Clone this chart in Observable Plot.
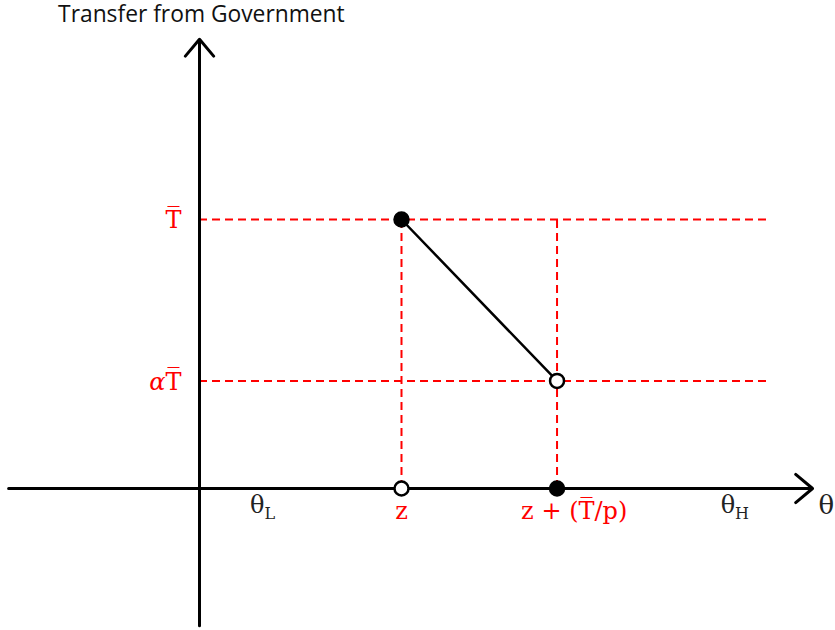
<!DOCTYPE html>
<html><head><meta charset="utf-8">
<script src="https://cdn.jsdelivr.net/npm/d3@7"></script>
<script src="https://cdn.jsdelivr.net/npm/@observablehq/plot@0.6"></script>
<style>body{margin:0;background:#fff}</style>
</head><body><div id="chart"></div>
<script>
// ---- data (schematic units: x origin at theta=0, y: T-bar = 1) ----
const title = "Transfer from Government";
const titlePos = {x: -1.40, y: 1.762};
const xAxisLabel = "θ";
const levelNames = ["T\u0305", "αT\u0305"];
const levelValues = [1, 0.40];
const thresholdNames = ["z", "z + (T\u0305/p)"];
const thresholdValues = [2.0, 3.54];
const thresholdLabelX = [2.0, 3.71];
const regionNames = ["θ_L", "θ_H"];
const regionValues = [0.5, 5.16];
const dashEnd = 5.65;
const xAxisExtent = [-1.89, 6.07];
const yAxisExtent = [-0.51, 1.67];
// segment endpoints: (z, T̄) closed -> (z+T̄/p, αT̄) open
const segX = [thresholdValues[0], thresholdValues[1]];
const segY = [levelValues[0], levelValues[1]];
const filledDots = [{x: thresholdValues[0], y: levelValues[0]}, {x: thresholdValues[1], y: 0}];
const openDots = [{x: thresholdValues[1], y: levelValues[1]}, {x: thresholdValues[0], y: 0}];

const red = "#ff0000";
const serif = "DejaVu Serif";

const hLines = levelValues.map(v => ({x1: 0, x2: dashEnd, y: v}));
const vLines = thresholdValues.map(v => ({x: v, y1: 0, y2: levelValues[0]}));
const segment = segX.map((x, i) => ({x, y: segY[i]}));
const levelLabels = levelNames.map((t, i) => ({t, y: levelValues[i]}));
const threshLabels = thresholdNames.map((t, i) => ({t, x: thresholdLabelX[i]}));
const regionLabels = regionNames.map((t, i) => ({t, x: regionValues[i]}));

const plot = Plot.plot({
  width: 835, height: 630, margin: 0,
  x: {domain: [-199/101, 636/101], axis: null},
  y: {domain: [-142/269, 488/269], axis: null},
  style: {background: "white", overflow: "visible"},
  marks: [
    Plot.ruleY(hLines, {x1: "x1", x2: "x2", y: "y", stroke: red, strokeWidth: 2, strokeDasharray: "8,5"}),
    Plot.ruleX(vLines, {x: "x", y1: "y1", y2: "y2", stroke: red, strokeWidth: 2, strokeDasharray: "8,5"}),
    Plot.arrow([{x1: xAxisExtent[0], x2: xAxisExtent[1], y: 0}], {x1: "x1", x2: "x2", y1: "y", y2: "y", stroke: "black", strokeWidth: 3, headLength: 11, headAngle: 80}),
    Plot.arrow([{y1: yAxisExtent[0], y2: yAxisExtent[1], x: 0}], {x1: "x", x2: "x", y1: "y1", y2: "y2", stroke: "black", strokeWidth: 3, headLength: 11, headAngle: 80}),
    Plot.line(segment, {x: "x", y: "y", stroke: "black", strokeWidth: 2.5}),
    Plot.dot(filledDots, {x: "x", y: "y", r: 7.5, fill: "black", stroke: "black"}),
    Plot.dot(openDots, {x: "x", y: "y", r: 7, fill: "white", stroke: "black", strokeWidth: 2.5}),
    Plot.text(levelLabels, {x: 0, y: "y", text: "t", dx: -18, dy: 1, textAnchor: "end", fill: red, fontFamily: serif, fontSize: 24}),
    Plot.text(threshLabels, {x: "x", y: 0, text: "t", dy: 23, fill: red, fontFamily: serif, fontSize: 24}),
    Plot.text(regionLabels, {x: "x", y: 0, text: "t", dy: 17, textAnchor: "start", fill: "#222", fontFamily: serif, fontSize: 24}),
    Plot.text([xAxisLabel], {x: xAxisExtent[1], y: 0, text: d => d, dx: 6, dy: 17, textAnchor: "start", fill: "#222", fontFamily: serif, fontSize: 26}),
    Plot.text([title], {x: titlePos.x, y: titlePos.y, text: d => d, textAnchor: "start", fill: "#111", fontFamily: "Open Sans", fontSize: 22.8})
  ]
});

// post-process: subscripts and italic alpha
d3.select(plot).selectAll("text").each(function() {
  const el = d3.select(this);
  const s = this.textContent;
  if (s.includes("_")) {
    const [a, b] = s.split("_");
    el.text(null);
    el.append("tspan").text(a);
    el.append("tspan").attr("font-size", "16").attr("dy", "0.35em").text(b);
  } else if (s.startsWith("α")) {
    el.text(null);
    el.append("tspan").attr("font-style", "italic").text("α");
    el.append("tspan").text(s.slice(1));
  }
});
document.getElementById("chart").appendChild(plot);
</script></body></html>
